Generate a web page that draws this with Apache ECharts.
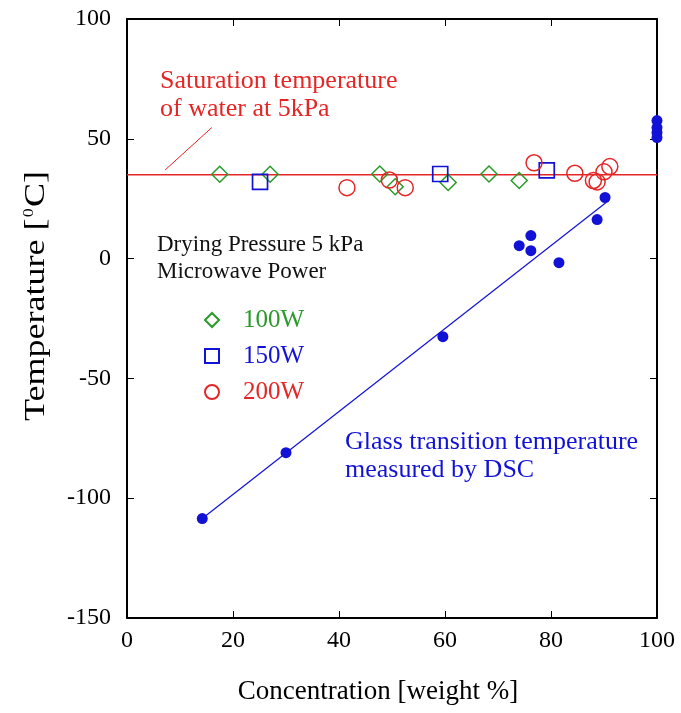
<!DOCTYPE html>
<html>
<head>
<meta charset="utf-8">
<script src="https://cdn.jsdelivr.net/npm/echarts@6/dist/echarts.min.js"></script>
<style>html,body{margin:0;padding:0;background:#fff}#c{width:681px;height:713px}</style>
</head>
<body>
<div id="c"></div>
<script>
// ---- data ----
const xTicks = [0, 20, 40, 60, 80, 100];
const yTicks = [-150, -100, -50, 0, 50, 100];
const w100X = [17.5, 27.0, 47.7, 50.6, 60.6, 68.3, 74.0];
const w100Y = [35.2, 35.2, 35.3, 30.0, 31.8, 35.3, 32.6];
const w150X = [25.1, 59.1, 79.2];
const w150Y = [32.0, 35.3, 36.8];
const w200X = [41.5, 49.5, 52.5, 76.8, 84.5, 88.0, 88.7, 90.0, 91.1];
const w200Y = [29.6, 32.8, 29.6, 40.0, 35.6, 32.6, 32.0, 36.2, 38.4];
const tgX = [14.2, 30.0, 59.6, 74.0, 76.2, 76.2, 81.5, 88.7, 90.2, 100, 100, 100, 100];
const tgY = [-108.5, -81.0, -32.6, 5.4, 9.6, 3.3, -1.7, 16.3, 25.5, 57.6, 54.7, 52.6, 50.5];
const fitX = [14.2, 90.4];
const fitY = [-108.5, 23.4];
const satX = [0, 100];
const satY = [35, 35];
const pointerX = [7.2, 16.0];
const pointerY = [37.0, 54.7];

const zip = (a, b) => a.map((v, i) => [v, b[i]]);
const FONT = '"Liberation Serif", "DejaVu Serif", serif';
const GREEN = '#2a9a2a', BLUE = '#1212d6', RED = '#e52626';

const chart = echarts.init(document.getElementById('c'));
const axisCommon = {
  type: 'value',
  axisLine: {show: true, onZero: false, lineStyle: {color: '#000', width: 2}},
  axisTick: {show: true, inside: true, length: 7, lineStyle: {color: '#000', width: 1}},
  splitLine: {show: false}
};
const legendItem = (name, color, top) => ({
  orient: 'vertical', left: 199, top: top, itemWidth: 14, itemHeight: 14,
  textStyle: {fontSize: 25, fontFamily: FONT, color: color, lineHeight: 26, padding: [0, 0, 0, 19]},
  data: [name]
});
chart.setOption({
  animation: false,
  backgroundColor: '#fff',
  grid: {left: 127, right: 24, top: 19, bottom: 95},
  textStyle: {fontFamily: FONT},
  xAxis: [
    Object.assign({}, axisCommon, {
      min: xTicks[0], max: xTicks[xTicks.length - 1], interval: 20, position: 'bottom',
      axisLabel: {color: '#000', fontSize: 24, fontFamily: FONT, margin: 11},
      name: 'Concentration [weight %]', nameLocation: 'middle', nameGap: 60,
      nameTextStyle: {color: '#000', fontSize: 27, fontFamily: FONT, padding: [0, 28, 0, 0]}
    }),
    Object.assign({}, axisCommon, {
      min: xTicks[0], max: xTicks[xTicks.length - 1], interval: 20, position: 'top',
      axisLabel: {show: false}
    })
  ],
  yAxis: [
    Object.assign({}, axisCommon, {
      min: yTicks[0], max: yTicks[yTicks.length - 1], interval: 50, position: 'left',
      axisLabel: {color: '#000', fontSize: 24, fontFamily: FONT, margin: 16}
    }),
    Object.assign({}, axisCommon, {
      min: yTicks[0], max: yTicks[yTicks.length - 1], interval: 50, position: 'right',
      axisLabel: {show: false}
    })
  ],
  legend: [
    legendItem('100W', GREEN, 302),
    legendItem('150W', BLUE, 338),
    legendItem('200W', RED, 374)
  ],
  series: [
    {name: 'sat', type: 'line', data: zip(satX, satY), symbol: 'none',
     lineStyle: {color: RED, width: 1.5}, z: 1, silent: true},
    {name: 'pointer', type: 'line', data: zip(pointerX, pointerY), symbol: 'none',
     lineStyle: {color: RED, width: 1}, z: 1, silent: true},
    {name: 'fit', type: 'line', data: zip(fitX, fitY), symbol: 'none',
     lineStyle: {color: BLUE, width: 1.2}, z: 1, silent: true},
    {name: '100W', type: 'scatter', data: zip(w100X, w100Y), symbol: 'diamond', symbolSize: 16,
     itemStyle: {color: 'rgba(255,255,255,0)', borderColor: GREEN, borderWidth: 1.5, opacity: 1}, z: 3},
    {name: '150W', type: 'scatter', data: zip(w150X, w150Y), symbol: 'rect', symbolSize: 15,
     itemStyle: {color: 'rgba(255,255,255,0)', borderColor: BLUE, borderWidth: 1.7, opacity: 1}, z: 3},
    {name: '200W', type: 'scatter', data: zip(w200X, w200Y), symbol: 'circle', symbolSize: 16,
     itemStyle: {color: 'rgba(255,255,255,0)', borderColor: RED, borderWidth: 1.5, opacity: 1}, z: 3},
    {name: 'Tg', type: 'scatter', data: zip(tgX, tgY), symbol: 'circle', symbolSize: 11,
     itemStyle: {color: BLUE, opacity: 1}, z: 4}
  ],
  graphic: [
    {type: 'text', x: 36, y: 296, rotation: Math.PI / 2, scaleX: 1.2,
     style: {text: '{a|Temperature [}{s|0}{a|C]}', fill: '#000',
       align: 'center', verticalAlign: 'middle',
       rich: {
         a: {fontSize: 30, fontFamily: FONT, lineHeight: 32, verticalAlign: 'middle', fill: '#000'},
         s: {fontSize: 15, fontFamily: FONT, lineHeight: 32, verticalAlign: 'top', padding: [2, 1, 0, 1], fill: '#000'}
       }}},
    {type: 'text', left: 160, top: 67, style: {text: 'Saturation temperature\nof water at 5kPa',
      fill: RED, font: '26px ' + FONT, lineHeight: 28}},
    {type: 'text', left: 157, top: 231, style: {text: 'Drying Pressure 5 kPa\nMicrowave Power',
      fill: '#111', font: '23px ' + FONT, lineHeight: 27}},
    {type: 'text', left: 345, top: 428, style: {text: 'Glass transition temperature\nmeasured by DSC',
      fill: BLUE, font: '26px ' + FONT, lineHeight: 28}}
  ]
});
</script>
</body>
</html>
